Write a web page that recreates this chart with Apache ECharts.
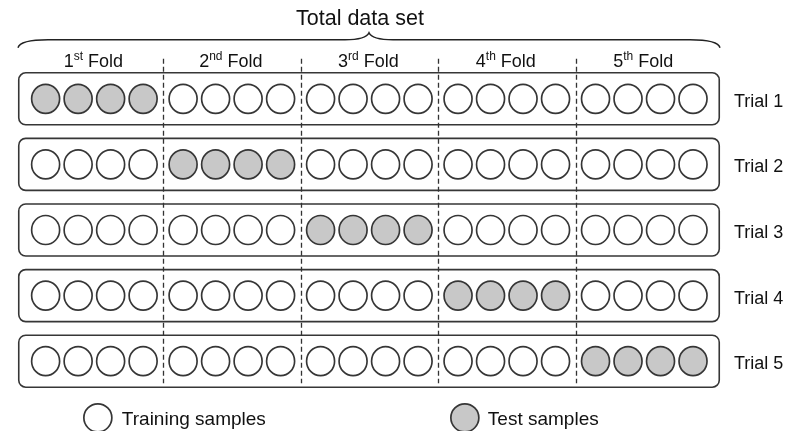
<!DOCTYPE html>
<html>
<head>
<meta charset="utf-8">
<script src="https://cdn.jsdelivr.net/npm/echarts@6/dist/echarts.min.js"></script>
<style>
html,body{margin:0;padding:0;background:#fff;}
#chart{width:797px;height:431px;}
</style>
</head>
<body>
<div id="chart"></div>
<script>
// ---- data ----
const trials = ['Trial 1', 'Trial 2', 'Trial 3', 'Trial 4', 'Trial 5'];
const foldNumbers = ['1', '2', '3', '4', '5'];
const foldSuffixes = ['st', 'nd', 'rd', 'th', 'th'];
const foldWord = 'Fold';
const testFoldOfTrial = [0, 1, 2, 3, 4];
const samplesPerFold = 4;
const titleText = 'Total data set';
const legendNames = ['Training samples', 'Test samples'];

// ---- layout constants ----
const FOLD_GAP = 0.23;          // extra spacing between folds (in sample units)
const X_MIN = -0.85, X_MAX = 20.75;
const FONT = '"Liberation Sans", Arial, Helvetica, sans-serif';
const STROKE = '#363636';

const foldStep = samplesPerFold + FOLD_GAP;
function xOf(f, j) { return f * foldStep + j; }

const trainData = [], testData = [];
trials.forEach(function (name, t) {
  foldNumbers.forEach(function (_, f) {
    for (let j = 0; j < samplesPerFold; j++) {
      const pt = [xOf(f, j), t];
      if (testFoldOfTrial[t] === f) testData.push(pt); else trainData.push(pt);
    }
  });
});
const boxData = trials.map(function (_, t) { return [X_MIN, t]; });
const sepData = [];
for (let f = 1; f < foldNumbers.length; f++) sepData.push([f * foldStep - (FOLD_GAP + 1) / 2, 0]);
const foldLabelData = foldNumbers.map(function (_, f) { return [xOf(f, (samplesPerFold - 1) / 2), 0, f]; });

const chart = echarts.init(document.getElementById('chart'));
chart.setOption({
  animation: false,
  backgroundColor: '#fff',
  textStyle: { fontFamily: FONT },
  title: {
    text: titleText, left: 296, top: 8, padding: 0,
    textStyle: { fontSize: 21.5, fontWeight: 'normal', color: '#111', fontFamily: FONT }
  },
  grid: { left: 18, right: 77, top: 66, bottom: 37 },
  xAxis: { type: 'value', min: X_MIN, max: X_MAX, show: false },
  yAxis: {
    type: 'category', data: trials, inverse: true, position: 'right',
    axisLine: { show: false }, axisTick: { show: false }, splitLine: { show: false },
    axisLabel: {
      margin: 14,
      formatter: function (v) { return '{t|' + v + '}'; },
      rich: { t: { fontSize: 18, color: '#111', fontFamily: FONT, padding: [6, 0, 0, 0] } }
    }
  },
  legend: [
    {
      data: [legendNames[0]], left: 83, top: 403, padding: 0,
      itemWidth: 28, itemHeight: 28, icon: 'circle',
      itemStyle: { color: '#fff', borderColor: STROKE, borderWidth: 1.7 },
      formatter: function (n) { return '{t|' + n + '}'; },
      textStyle: { rich: { t: { fontSize: 19, color: '#111', fontFamily: FONT, padding: [4, 0, 0, 5] } } }
    },
    {
      data: [legendNames[1]], left: 450, top: 403, padding: 0,
      itemWidth: 28, itemHeight: 28, icon: 'circle',
      itemStyle: { color: '#c8c8c8', borderColor: STROKE, borderWidth: 1.7 },
      formatter: function (n) { return '{t|' + n + '}'; },
      textStyle: { rich: { t: { fontSize: 19, color: '#111', fontFamily: FONT, padding: [4, 0, 0, 4] } } }
    }
  ],
  series: [
    {
      type: 'custom', name: 'boxes', silent: true, z: 1,
      data: boxData,
      renderItem: function (params, api) {
        const t = api.value(1);
        const a = api.coord([X_MIN, t]);
        const b = api.coord([X_MAX, t]);
        const band = Math.abs(api.coord([X_MIN, 1])[1] - api.coord([X_MIN, 0])[1]);
        const h = band * 0.793;
        return {
          type: 'rect',
          shape: { x: a[0] + 0.75, y: a[1] - h / 2, width: b[0] - a[0] - 1.5, height: h, r: 7 },
          style: { fill: '#fff', stroke: STROKE, lineWidth: 1.6 }
        };
      }
    },
    {
      type: 'custom', name: 'separators', silent: true, z: 3,
      data: sepData,
      renderItem: function (params, api) {
        const x = api.coord([api.value(0), 0])[0];
        const top = api.coord([0, 0])[1] - 40;
        const bottom = api.coord([0, trials.length - 1])[1] + 22;
        return {
          type: 'line',
          shape: { x1: Math.round(x) + 0.5, y1: top, x2: Math.round(x) + 0.5, y2: bottom },
          style: { stroke: '#333', lineWidth: 1.3, lineDash: [5, 3] }
        };
      }
    },
    {
      type: 'custom', name: 'foldLabels', silent: true, z: 3,
      data: foldLabelData,
      renderItem: function (params, api) {
        const f = api.value(2);
        const p = api.coord([api.value(0), 0]);
        return {
          type: 'text',
          style: {
            x: p[0] - 1, y: p[1] - 38,
            text: '{n|' + foldNumbers[f] + '}{s|' + foldSuffixes[f] + '}{n| ' + foldWord + '}',
            align: 'center', verticalAlign: 'middle',
            rich: {
              n: { fontSize: 18, fontFamily: FONT, fill: '#111', lineHeight: 20, verticalAlign: 'bottom' },
              s: { fontSize: 12, fontFamily: FONT, fill: '#111', lineHeight: 20, verticalAlign: 'top' }
            }
          }
        };
      }
    },
    {
      type: 'custom', name: 'brace', silent: true, z: 3,
      data: [[X_MIN, 0]],
      renderItem: function (params, api) {
        const l = api.coord([X_MIN, 0])[0];
        const r = api.coord([X_MAX, 0])[0];
        const y0 = api.coord([X_MIN, 0])[1];
        const m = (l + r) / 2;
        const yl = y0 - 59, ye = y0 - 51, yc = y0 - 66;
        const d = 'M' + l + ' ' + ye +
          ' Q' + (l + 2) + ' ' + yl + ' ' + (l + 30) + ' ' + yl +
          ' L' + (m - 24) + ' ' + yl +
          ' Q' + (m - 3) + ' ' + yl + ' ' + m + ' ' + yc +
          ' Q' + (m + 3) + ' ' + yl + ' ' + (m + 24) + ' ' + yl +
          ' L' + (r - 30) + ' ' + yl +
          ' Q' + (r - 2) + ' ' + yl + ' ' + r + ' ' + ye;
        return {
          type: 'path',
          shape: { pathData: d },
          style: { fill: 'none', stroke: '#222', lineWidth: 1.5 }
        };
      }
    },
    {
      type: 'scatter', name: legendNames[0], z: 4,
      data: trainData, symbol: 'circle', symbolSize: [28, 29],
      itemStyle: { color: '#fff', borderColor: STROKE, borderWidth: 1.7, opacity: 1 }
    },
    {
      type: 'scatter', name: legendNames[1], z: 4,
      data: testData, symbol: 'circle', symbolSize: [28, 29],
      itemStyle: { color: '#c8c8c8', borderColor: STROKE, borderWidth: 1.7, opacity: 1 }
    }
  ]
});
</script>
</body>
</html>
